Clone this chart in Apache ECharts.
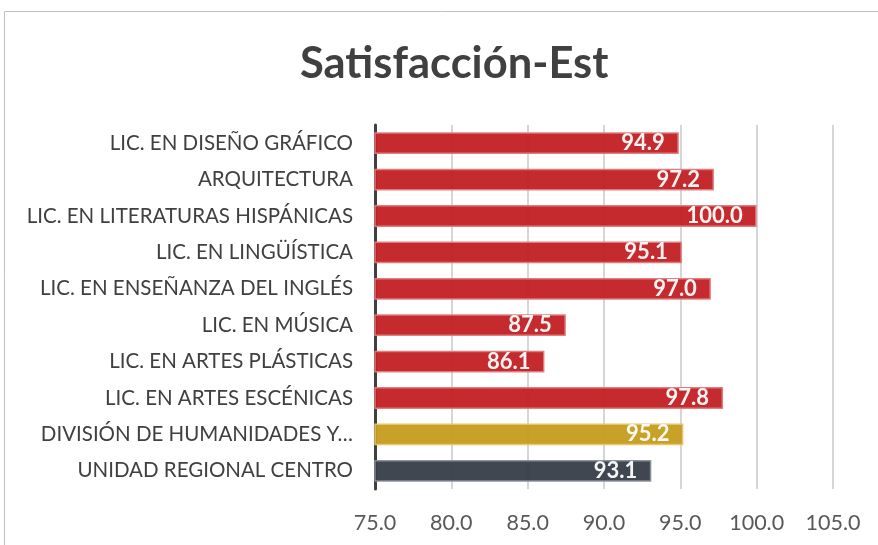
<!DOCTYPE html>
<html>
<head>
<meta charset="utf-8">
<script src="https://cdn.jsdelivr.net/npm/echarts@6/dist/echarts.min.js"></script>
<style>
  html, body { margin: 0; padding: 0; background: #fff; }
  #chart { width: 878px; height: 545px; }
</style>
</head>
<body>
<div id="chart"></div>
<script>
const categories = [
  'LIC. EN DISEÑO GRÁFICO',
  'ARQUITECTURA',
  'LIC. EN LITERATURAS HISPÁNICAS',
  'LIC. EN LINGÜÍSTICA',
  'LIC. EN ENSEÑANZA DEL INGLÉS',
  'LIC. EN MÚSICA',
  'LIC. EN ARTES PLÁSTICAS',
  'LIC. EN ARTES ESCÉNICAS',
  'DIVISIÓN DE HUMANIDADES Y…',
  'UNIDAD REGIONAL CENTRO'
]
const values = [94.9, 97.2, 100.0, 95.1, 97.0, 87.5, 86.1, 97.8, 95.2, 93.1]
const barColors = ['#c21f23', '#c21f23', '#c21f23', '#c21f23', '#c21f23', '#c21f23', '#c21f23', '#c21f23', '#c59c1c', '#363d47']
const borderColors = ['#e07a7c', '#e07a7c', '#e07a7c', '#e07a7c', '#e07a7c', '#e07a7c', '#e07a7c', '#e07a7c', '#e6c46a', '#8a9099']

const chart = echarts.init(document.getElementById('chart'))

const option = {
  animation: false,
  title: {
    text: 'Satisfacción-Est',
    left: 295,
    top: 37,
    textStyle: {
      fontFamily: 'Lato',
      fontSize: 43.5,
      fontWeight: 'bold',
      color: '#404040'
    }
  },
  graphic: [
    {
      type: 'rect',
      shape: { x: 4.5, y: 11.5, width: 900, height: 600 },
      style: { fill: 'none', stroke: '#c0c0c0', lineWidth: 1 },
      z: -1
    }
  ],
  grid: {
    left: 375,
    right: 45,
    top: 125,
    bottom: 56
  },
  xAxis: {
    type: 'value',
    min: 75,
    max: 105,
    interval: 5,
    axisLine: { show: false },
    axisTick: { show: false },
    splitLine: { lineStyle: { color: '#c8c8c8', width: 1.5 } },
    axisLabel: {
      margin: 23,
      fontFamily: 'Lato',
      fontSize: 21.5,
      color: '#595959',
      formatter: v => v.toFixed(1)
    }
  },
  yAxis: {
    type: 'category',
    data: categories,
    inverse: true,
    axisTick: { show: false },
    axisLine: { lineStyle: { color: '#404040', width: 3 } },
    axisLabel: {
      margin: 22,
      fontFamily: 'Lato',
      fontSize: 20.5,
      color: '#404040'
    }
  },
  series: [
    {
      type: 'bar',
      barCategoryGap: '40%',
      data: values.map((v, i) => ({
        value: v,
        itemStyle: { color: barColors[i], borderColor: borderColors[i], borderWidth: 1.5, opacity: 0.95 }
      })),
      label: {
        show: true,
        position: 'insideRight',
        distance: 14,
        color: '#fff',
        fontFamily: 'Lato',
        fontWeight: 'bold',
        fontSize: 22,
        formatter: p => p.value.toFixed(1)
      }
    }
  ]
}

chart.setOption(option)
window.addEventListener('resize', () => chart.resize())
</script>
</body>
</html>
